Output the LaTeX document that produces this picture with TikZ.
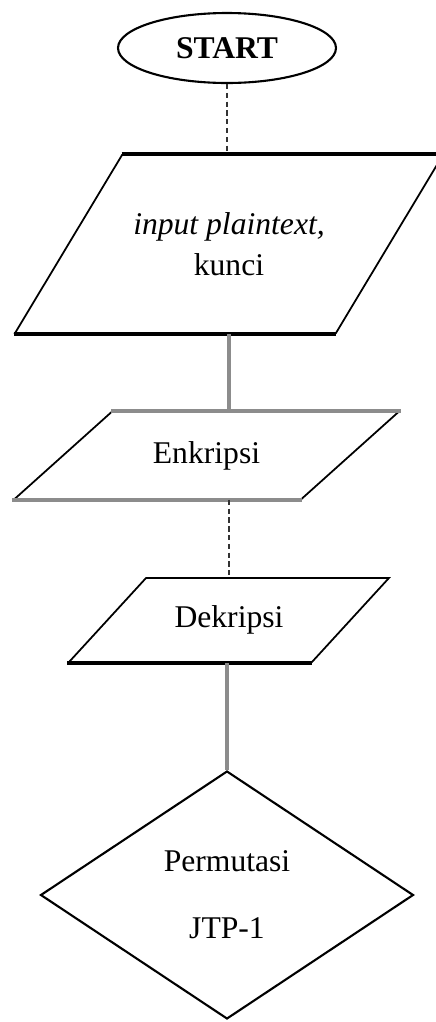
\documentclass[tikz,border=0pt]{standalone}
\usepackage{fontspec}
\setmainfont{Liberation Serif}
\usepackage{tikz}
\usetikzlibrary{arrows.meta,positioning,shapes.geometric}
% body of an input/output box: fixed width and height
\newcommand{\iobody}[3]{\parbox[c][#2][c]{#1}{\centering #3}}

\begin{document}
\begin{tikzpicture}[
  x=0.02cm, y=-0.02cm,
  font=\fontsize{18}{23}\selectfont,
  terminal/.style={ellipse,draw=black,line width=1.2pt,
                   minimum width=4.36cm,minimum height=1.4cm,inner sep=0pt,
                   font=\fontsize{18}{23}\selectfont\bfseries},
  io/.style={trapezium,draw=black,line width=1pt,inner sep=0pt},
  decision/.style={diamond,draw=black,line width=1.2pt,align=center,
                   minimum width=7.46cm,minimum height=4.96cm,inner sep=0pt},
  edge/.style={black,line width=2.2pt},
  gedge/.style={black!45,line width=2pt},
  link/.style={black!45,line width=2.2pt},
  dlink/.style={black!80,line width=1.4pt,densely dashed},
]
\useasboundingbox (0,0) rectangle (436,1022);

\node[terminal] (start) at (227,48) {START};
\node[io,trapezium left angle=59,trapezium right angle=121] (inp) at (229,244)
      {\iobody{4.28cm}{3.56cm}{\textit{input plaintext,}\\kunci}};
\node[io,trapezium left angle=41.9,trapezium right angle=138.1] (enc) at (206.5,455.5)
      {\iobody{3.8cm}{1.74cm}{Enkripsi}};
\node[io,trapezium left angle=47.5,trapezium right angle=132.5] (dec) at (229,620)
      {\iobody{3.32cm}{1.68cm}{Dekripsi}};
\node[decision] (perm) at (227,895) {Permutasi\\[15pt]JTP-1};

% heavier top and bottom sides
\draw[edge]  (inp.top left corner)    -- (inp.top right corner);
\draw[edge]  (inp.bottom left corner) -- (inp.bottom right corner);
\draw[gedge] (enc.top left corner)    -- (enc.top right corner);
\draw[gedge] (enc.bottom left corner) -- (enc.bottom right corner);
\draw[edge]  (dec.bottom left corner) -- (dec.bottom right corner);

\draw[dlink] (start.south) -- (start.south |- inp.north);
\draw[link]  (inp.south)   -- (inp.south |- enc.north);
\draw[dlink] (enc.south -| inp.south) -- (inp.south |- dec.north);
\draw[link]  (dec.south -| perm.north) -- (perm.north);

\end{tikzpicture}
\end{document}
